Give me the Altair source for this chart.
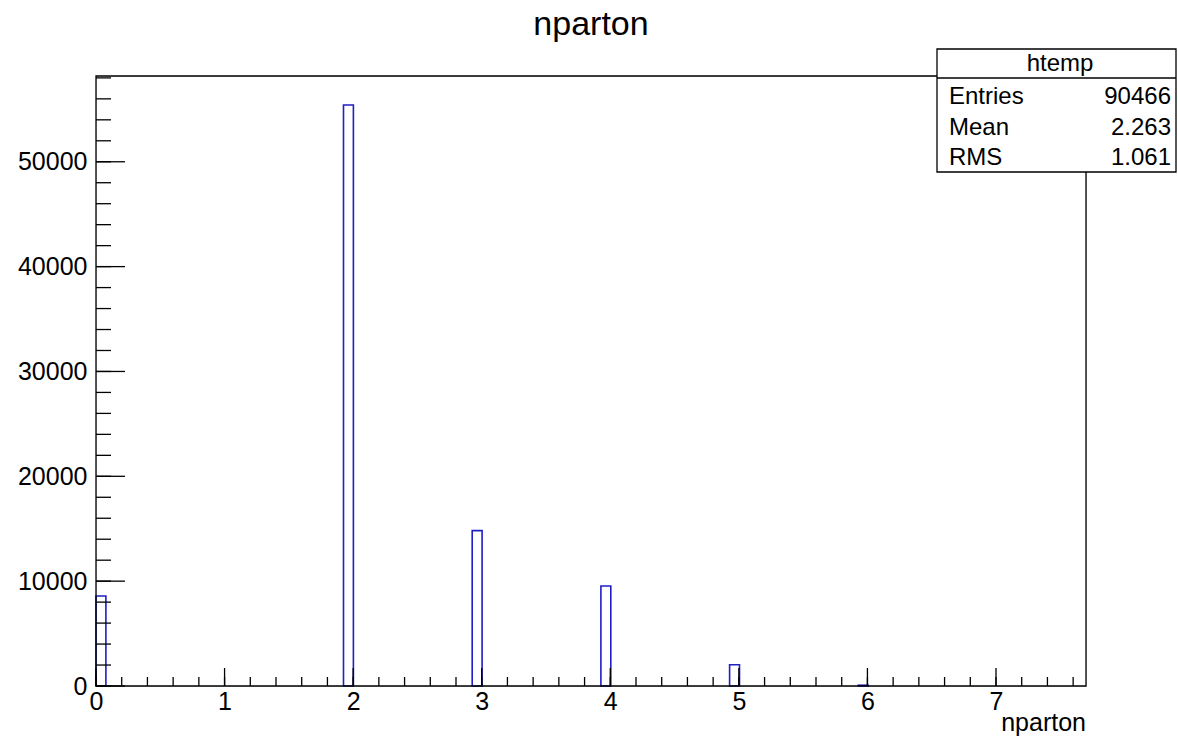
import altair as alt
import pandas as pd
import numpy as np

# ---- data ----
bin_width = 0.077
bin_low = [0.0, 1.925, 2.926, 3.927, 4.928, 5.929]
counts = [8590, 55410, 14820, 9540, 2030, 76]

x_major = [0, 1, 2, 3, 4, 5, 6, 7]
x_minor = [round(v, 1) for v in np.arange(0, 7.7, 0.2)]
y_major = [0, 10000, 20000, 30000, 40000, 50000]
y_minor = list(range(0, 58001, 2000))

stat_names = ["Entries", "Mean", "RMS"]
stat_values = ["90466", "2.263", "1.061"]

X_MAX = 7.7
Y_MAX = 58180
W, H = 990, 610
FONT = "Liberation Sans"
BLUE = "#1f1fc4"
FS = 25

hist = pd.DataFrame({
    "lo": bin_low,
    "hi": [b + bin_width for b in bin_low],
    "count": counts,
})

xs = alt.Scale(domain=[0, X_MAX], nice=False, zero=False)
ys = alt.Scale(domain=[0, Y_MAX], nice=False)

bars = alt.Chart(hist).mark_rect(fill="white", fillOpacity=0, stroke=BLUE, strokeWidth=1.6).encode(
    x=alt.X("lo:Q", scale=xs, axis=alt.Axis(values=x_major, ticks=False, domain=False, grid=False,
                                             labelFontSize=FS, labelFont=FONT, labelColor="black",
                                             labelPadding=3, labelFlush=False, labelOverlap=False,
                                             title=None, format="d")),
    x2="hi:Q",
    y=alt.Y("count:Q", scale=ys, axis=alt.Axis(values=y_major, ticks=False, domain=False, grid=False,
                                                labelFontSize=FS, labelFont=FONT, labelColor="black",
                                                labelPadding=9, labelFlush=False, labelOverlap=False,
                                                title=None, format="d")),
    y2=alt.datum(0),
)

blank = alt.Data(values=[{}])

frame = alt.Chart(blank).mark_rect(fill="white", fillOpacity=0, stroke="black", strokeWidth=1.3).encode(
    x=alt.value(0), x2=alt.value(W), y=alt.value(0), y2=alt.value(H))

xmaj = alt.Chart(pd.DataFrame({"v": x_major})).mark_rule(color="black", strokeWidth=1.3).encode(
    x=alt.X("v:Q", scale=xs), y=alt.value(H), y2=alt.value(H - 18))
xmin = alt.Chart(pd.DataFrame({"v": x_minor})).mark_rule(color="black", strokeWidth=1.3).encode(
    x=alt.X("v:Q", scale=xs), y=alt.value(H), y2=alt.value(H - 9))
ymaj = alt.Chart(pd.DataFrame({"v": y_major})).mark_rule(color="black", strokeWidth=1.3).encode(
    y=alt.Y("v:Q", scale=ys), x=alt.value(0), x2=alt.value(29))
ymin = alt.Chart(pd.DataFrame({"v": y_minor})).mark_rule(color="black", strokeWidth=1.3).encode(
    y=alt.Y("v:Q", scale=ys), x=alt.value(0), x2=alt.value(15))

title = alt.Chart(blank).mark_text(fontSize=34, font=FONT, color="black", align="center",
                                   baseline="middle").encode(
    x=alt.value(495), y=alt.value(-51), text=alt.value("nparton"))

xtitle = alt.Chart(blank).mark_text(fontSize=FS, font=FONT, color="black", align="right",
                                    baseline="middle").encode(
    x=alt.value(W), y=alt.value(647), text=alt.value("nparton"))

# stats box
box = alt.Chart(blank).mark_rect(fill="white", stroke="black", strokeWidth=1.3).encode(
    x=alt.value(841), x2=alt.value(1080), y=alt.value(-27), y2=alt.value(96))
box_line = alt.Chart(blank).mark_rule(color="black", strokeWidth=1.3).encode(
    x=alt.value(841), x2=alt.value(1080), y=alt.value(2))
box_head = alt.Chart(blank).mark_text(fontSize=FS - 1, font=FONT, color="black", align="center",
                                      baseline="middle").encode(
    x=alt.value(964), y=alt.value(-12), text=alt.value("htemp"))

stats_df = pd.DataFrame({"name": stat_names, "val": stat_values, "row": [0, 1, 2]})
row_scale = alt.Scale(domain=[0, 2], range=[21, 82])
stat_names_t = alt.Chart(stats_df).mark_text(fontSize=FS - 1, font=FONT, color="black", align="left",
                                             baseline="middle").encode(
    x=alt.value(853), y=alt.Y("row:Q", scale=row_scale, axis=None), text="name:N")
stat_vals_t = alt.Chart(stats_df).mark_text(fontSize=FS - 1, font=FONT, color="black", align="right",
                                            baseline="middle").encode(
    x=alt.value(1075), y=alt.Y("row:Q", scale=row_scale, axis=None), text="val:N")

stats_layer = alt.layer(box, box_line, box_head, stat_names_t, stat_vals_t).resolve_scale(y="independent")

main = alt.layer(bars, frame, xmin, xmaj, ymin, ymaj)

chart = alt.layer(main, title, xtitle, stats_layer).resolve_scale(y="independent").properties(
    width=W, height=H,
    autosize=alt.AutoSizeParams(type="none"),
    padding={"left": 96, "top": 76, "right": 92, "bottom": 52},
).configure_view(stroke=None).configure(background="white")

chart.save("out.html", embed_options={"renderer": "svg", "actions": False})
